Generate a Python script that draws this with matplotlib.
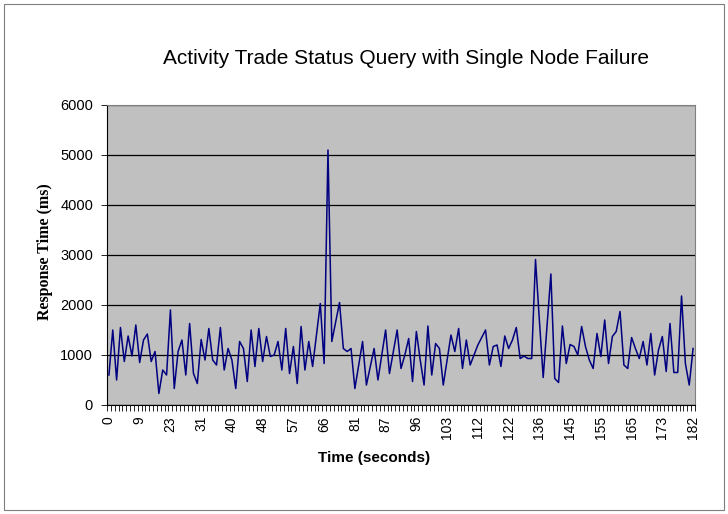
import matplotlib
matplotlib.use("Agg")
import matplotlib.pyplot as plt
from matplotlib.patches import Rectangle

plt.rcParams['font.family'] = ['Liberation Sans', 'DejaVu Sans']

title = "Activity Trade Status Query with Single Node Failure"
x_label = "Time (seconds)"
y_label = "Response Time (ms)"

# response times (ms), one per sample, in sample order
response_ms = [
    600, 1500, 500, 1550, 870, 1380, 980, 1600, 850, 1300,
    1420, 870, 1070, 230, 700, 600, 1900, 330, 1070, 1300,
    600, 1630, 630, 430, 1310, 900, 1530, 900, 800, 1550,
    700, 1130, 900, 330, 1270, 1130, 470, 1500, 770, 1530,
    870, 1370, 970, 1000, 1270, 700, 1530, 630, 1170, 430,
    1570, 700, 1270, 770, 1400, 2030, 830, 5100, 1270, 1660,
    2050, 1130, 1070, 1130, 330, 800, 1270, 400, 770, 1130,
    500, 1000, 1500, 630, 1060, 1500, 730, 1000, 1330, 470,
    1470, 900, 400, 1580, 600, 1230, 1130, 400, 900, 1400,
    1070, 1530, 730, 1300, 800, 1000, 1200, 1350, 1500, 800,
    1170, 1200, 770, 1380, 1130, 1300, 1550, 930, 980, 930,
    930, 2910, 1700, 550, 1600, 2620, 530, 450, 1580, 830,
    1210, 1170, 1000, 1570, 1170, 900, 730, 1430, 970, 1700,
    830, 1370, 1470, 1870, 800, 730, 1350, 1130, 930, 1270,
    800, 1430, 600, 1100, 1370, 670, 1630, 650, 650, 2180,
    830, 400, 1130,
]

# time labels shown on the category axis (every 8th sample)
time_labels = ["0", "9", "23", "31", "40", "48", "57", "66", "81", "87",
               "96", "103", "112", "122", "136", "145", "155", "165", "173", "182"]
label_every = 8

y_ticks = [0, 1000, 2000, 3000, 4000, 5000, 6000]

W, H = 728, 514
fig = plt.figure(figsize=(W / 100, H / 100), dpi=100)
fig.patch.set_facecolor("white")

# chart area border
fig.patches.append(Rectangle((4 / W, 4 / H), 720 / W, 506 / H,
                             transform=fig.transFigure, fill=False,
                             edgecolor="#7f7f7f", linewidth=0.8))

ax = fig.add_axes([107 / W, 1 - 405 / H, 588 / W, 300 / H])
ax.set_facecolor("#C0C0C0")

n = len(response_ms)
xs = list(range(n))
ax.plot(xs, response_ms, color="#000080", linewidth=1.1, zorder=3)

ax.set_xlim(-0.5, n - 0.5)
ax.set_ylim(0, 6000)

ax.set_yticks(y_ticks)
ax.set_yticklabels([str(v) for v in y_ticks], fontsize=10.5)
ax.yaxis.grid(True, color="black", linewidth=0.9)
ax.set_axisbelow(True)

label_pos = list(range(0, n, label_every))[:len(time_labels)]
ax.set_xticks(label_pos)
ax.set_xticklabels(time_labels, rotation=90, fontsize=10)
ax.set_xticks([i - 0.5 for i in range(n + 1)], minor=True)
ax.tick_params(axis="x", which="major", length=0, pad=8)
ax.tick_params(axis="x", which="minor", length=4, width=0.6, direction="out")
ax.tick_params(axis="y", length=4, width=0.6, direction="out", pad=6)

for side in ["top", "right"]:
    ax.spines[side].set_color("#808080")
    ax.spines[side].set_linewidth(0.8)
for side in ["left", "bottom"]:
    ax.spines[side].set_color("black")
    ax.spines[side].set_linewidth(0.8)

fig.text(406 / W, 1 - 58 / H, title, fontsize=15, ha="center", va="center")
fig.text(374 / W, 1 - 458 / H, x_label, fontsize=11, fontweight="bold",
         ha="center", va="center")
fig.text(45 / W, 1 - 252 / H, y_label, fontsize=11.5, fontweight="bold",
         rotation=90, ha="center", va="center",
         family=["Liberation Serif", "DejaVu Serif"])

fig.savefig("out.png", dpi=100)
